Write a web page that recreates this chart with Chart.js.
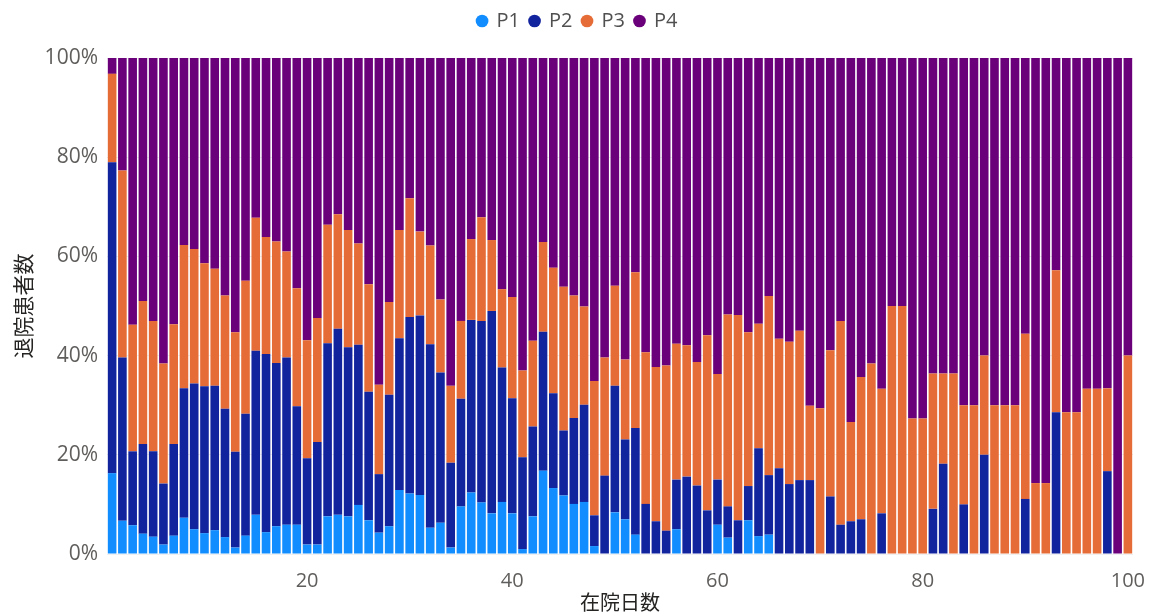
<!DOCTYPE html>
<html>
<head>
<meta charset="utf-8">
<script src="https://cdn.jsdelivr.net/npm/chart.js@4"></script>
<style>
    html, body {
        margin: 0;
        padding: 0;
        background: #ffffff;
    }

    #chart-wrapper {
        width: 1155px;
        height: 616px;
    }
</style>
</head>
<body>
<div id="chart-wrapper">
    <canvas id="stay-chart" width="1155" height="616"></canvas>
</div>
<script>
// =========================================================
// DATA
// =========================================================

//categories: days in hospital 1..100
const stayDays = [
    1, 2, 3, 4, 5, 6, 7, 8, 9, 10,
    11, 12, 13, 14, 15, 16, 17, 18, 19, 20,
    21, 22, 23, 24, 25, 26, 27, 28, 29, 30,
    31, 32, 33, 34, 35, 36, 37, 38, 39, 40,
    41, 42, 43, 44, 45, 46, 47, 48, 49, 50,
    51, 52, 53, 54, 55, 56, 57, 58, 59, 60,
    61, 62, 63, 64, 65, 66, 67, 68, 69, 70,
    71, 72, 73, 74, 75, 76, 77, 78, 79, 80,
    81, 82, 83, 84, 85, 86, 87, 88, 89, 90,
    91, 92, 93, 94, 95, 96, 97, 98, 99, 100
];

//share of discharged patients (%)
const p1Values = [
    16.3, 6.7, 5.8, 4.1, 3.5, 1.9, 3.7, 7.3, 5.0, 4.2,
    4.8, 3.4, 1.3, 3.7, 7.9, 4.4, 5.6, 5.9, 5.9, 1.9,
    1.9, 7.6, 7.9, 7.6, 9.9, 6.8, 4.3, 5.6, 12.9, 12.2,
    11.9, 5.3, 6.3, 1.3, 9.6, 12.4, 10.4, 8.2, 10.5, 8.2,
    1.0, 7.6, 16.8, 13.3, 11.8, 10.1, 10.5, 1.6, 0, 8.4,
    7.0, 3.9, 0, 0, 0, 5.0, 0, 0, 0, 5.9,
    3.3, 0, 6.8, 3.6, 3.9, 0, 0, 0, 0, 0,
    0, 0, 0, 0, 0, 0, 0, 0, 0, 0,
    0, 0, 0, 0, 0, 0, 0, 0, 0, 0,
    0, 0, 0, 0, 0, 0, 0, 0, 0, 0
];

const p2Values = [
    62.7, 32.9, 14.9, 18.1, 17.2, 12.3, 18.5, 26.1, 29.4, 29.6,
    29.1, 25.9, 19.3, 24.6, 33.1, 35.9, 32.9, 33.7, 23.9, 17.4,
    20.7, 34.9, 37.5, 34.1, 32.3, 25.9, 11.8, 26.5, 30.6, 35.6,
    36.2, 37.0, 30.3, 17.1, 21.7, 34.8, 36.6, 40.8, 27.1, 23.2,
    18.5, 18.1, 28.0, 19.1, 13.1, 17.3, 19.6, 6.2, 15.8, 25.5,
    16.1, 21.5, 10.1, 6.6, 4.7, 10.0, 15.6, 13.8, 8.8, 9.1,
    6.3, 6.8, 6.9, 17.7, 12.0, 17.3, 14.1, 14.9, 14.9, 0,
    11.6, 5.9, 6.6, 7.0, 0, 8.2, 0, 0, 0, 0,
    9.1, 18.2, 0, 10.0, 0, 20.0, 0, 0, 0, 11.1,
    0, 0, 28.6, 0, 0, 0, 0, 16.7, 0, 0
];

const p3Values = [
    17.8, 37.7, 25.5, 28.8, 26.3, 24.2, 24.1, 28.9, 27.1, 24.8,
    23.6, 22.8, 24.1, 26.8, 26.8, 23.6, 24.5, 21.4, 23.8, 23.8,
    25.0, 23.9, 23.1, 23.6, 20.4, 21.7, 18.0, 18.7, 21.8, 23.9,
    16.9, 19.9, 14.7, 15.5, 15.7, 16.3, 20.9, 14.3, 15.8, 20.4,
    17.5, 17.3, 18.1, 25.3, 29.0, 24.7, 19.8, 27.1, 23.8, 20.2,
    16.1, 31.4, 30.6, 31.1, 33.3, 27.4, 26.5, 24.9, 35.3, 21.3,
    38.7, 41.4, 31.0, 25.1, 36.1, 26.1, 28.7, 30.1, 15.0, 29.4,
    29.5, 41.1, 20.0, 28.7, 38.4, 25.1, 50.0, 50.0, 27.3, 27.3,
    27.3, 18.2, 36.4, 20.0, 30.0, 20.0, 30.0, 30.0, 30.0, 33.3,
    14.3, 14.3, 28.6, 28.6, 28.6, 33.3, 33.3, 16.7, 0, 40.0
];

const p4Values = [
    3.2, 22.7, 53.8, 49.0, 53.0, 61.6, 53.7, 37.7, 38.5, 41.4,
    42.5, 47.9, 55.3, 44.9, 32.2, 36.1, 37.0, 39.0, 46.4, 56.9,
    52.4, 33.6, 31.5, 34.7, 37.4, 45.6, 65.9, 49.2, 34.7, 28.3,
    35.0, 37.8, 48.7, 66.1, 53.0, 36.5, 32.1, 36.7, 46.6, 48.2,
    63.0, 57.0, 37.1, 42.3, 46.1, 47.9, 50.1, 65.1, 60.4, 45.9,
    60.8, 43.2, 59.3, 62.3, 62.0, 57.6, 57.9, 61.3, 55.9, 63.7,
    51.7, 51.8, 55.3, 53.6, 48.0, 56.6, 57.2, 55.0, 70.1, 70.6,
    58.9, 53.0, 73.4, 64.3, 61.6, 66.7, 50.0, 50.0, 72.7, 72.7,
    63.6, 63.6, 63.6, 70.0, 70.0, 60.0, 70.0, 70.0, 70.0, 55.6,
    85.7, 85.7, 42.9, 71.4, 71.4, 66.7, 66.7, 66.7, 100, 60.0
];

const seriesNames = ["P1", "P2", "P3", "P4"];
const xTickLabels = [20, 40, 60, 80, 100];
const yTickValues = [0, 20, 40, 60, 80, 100];

// =========================================================
// STYLE
// =========================================================

const SERIES_COLORS = ["#118DFF", "#12239E", "#E66C37", "#6B007B"];
const FONT_FAMILY = "'Open Sans', 'Noto Sans CJK JP', sans-serif";
const TICK_COLOR = "#605E5C";
const TITLE_COLOR = "#252423";

// legend band above the plot (plot starts at y = 58)
const LEGEND_BAND_HEIGHT = 57;

// =========================================================
// CHART
// =========================================================

const legendBandPlugin = {
    id: "legendBand",
    afterInit: function (chart) {
        const legend = chart.legend;
        const originalFit = legend.fit;

        legend.fit = function () {
            originalFit.call(this);
            this.height = LEGEND_BAND_HEIGHT;
        };
    }
};

function buildDatasets() {
    const allValues = [p1Values, p2Values, p3Values, p4Values];
    const datasets = [];

    for (let seriesIndex = 0; seriesIndex < seriesNames.length; seriesIndex++) {
        datasets.push({
            label: seriesNames[seriesIndex],
            data: allValues[seriesIndex],
            backgroundColor: SERIES_COLORS[seriesIndex],
            borderWidth: 0,
            barPercentage: 0.84,
            categoryPercentage: 1.0
        });
    }

    return datasets;
}

function createStayChart(canvas) {
    return new Chart(canvas, {
        type: "bar",
        data: {
            labels: stayDays,
            datasets: buildDatasets()
        },
        plugins: [legendBandPlugin],
        options: {
            responsive: false,
            animation: false,
            layout: {
                padding: {
                    top: 1,
                    right: 0,
                    bottom: 0,
                    left: 0
                }
            },
            scales: {
                x: {
                    stacked: true,
                    offset: true,
                    grid: {
                        display: false
                    },
                    border: {
                        display: false
                    },
                    ticks: {
                        autoSkip: false,
                        maxRotation: 0,
                        color: TICK_COLOR,
                        padding: 7,
                        font: {
                            family: FONT_FAMILY,
                            size: 20
                        },
                        callback: function (value, index) {
                            const day = stayDays[index];
                            return xTickLabels.includes(day) ? String(day) : "";
                        }
                    },
                    title: {
                        display: true,
                        text: "在院日数",
                        color: TITLE_COLOR,
                        padding: { top: 0, bottom: 0 },
                        font: {
                            family: FONT_FAMILY,
                            size: 20
                        }
                    },
                    afterFit: function (scale) {
                        scale.height = 62;
                    }
                },
                y: {
                    stacked: true,
                    min: 0,
                    max: 100,
                    grid: {
                        color: "#F0F0F0",
                        drawTicks: false
                    },
                    border: {
                        display: false
                    },
                    afterBuildTicks: function (scale) {
                        scale.ticks = yTickValues.map(value => ({ value: value }));
                    },
                    ticks: {
                        color: TICK_COLOR,
                        padding: 9,
                        font: {
                            family: FONT_FAMILY,
                            size: 21
                        },
                        callback: function (value) {
                            return value + "%";
                        }
                    },
                    title: {
                        display: true,
                        text: "退院患者数",
                        color: TITLE_COLOR,
                        padding: { top: 12, bottom: 0 },
                        font: {
                            family: FONT_FAMILY,
                            size: 21
                        }
                    },
                    afterFit: function (scale) {
                        scale.width = 107;
                    }
                },
                // empty strip on the right so the legend centres on the whole canvas
                rightGap: {
                    position: "right",
                    display: true,
                    grid: {
                        display: false
                    },
                    border: {
                        display: false
                    },
                    ticks: {
                        display: false
                    },
                    afterFit: function (scale) {
                        scale.width = 22;
                    }
                }
            },
            plugins: {
                legend: {
                    display: true,
                    position: "top",
                    labels: {
                        usePointStyle: true,
                        pointStyle: "circle",
                        boxWidth: 9,
                        boxHeight: 9,
                        padding: 10,
                        color: "#505050",
                        font: {
                            family: FONT_FAMILY,
                            size: 20
                        }
                    }
                },
                tooltip: {
                    enabled: false
                }
            }
        }
    });
}

createStayChart(document.getElementById("stay-chart"));
</script>
</body>
</html>
